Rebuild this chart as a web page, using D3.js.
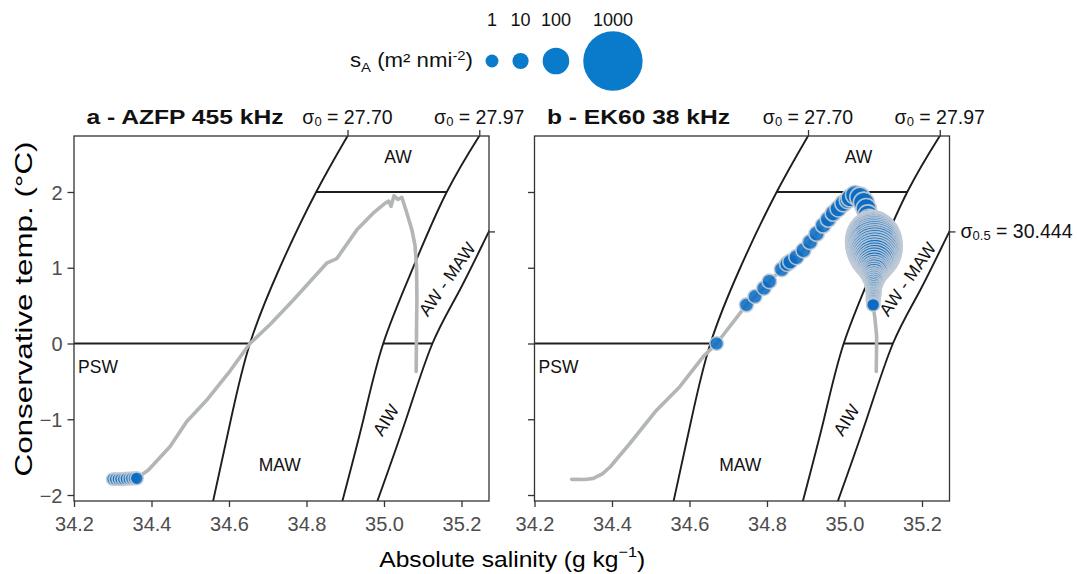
<!DOCTYPE html>
<html>
<head>
<meta charset="utf-8">
<script src="https://cdn.jsdelivr.net/npm/d3@7"></script>
<style>
  body { margin: 0; background: #fff; }
  svg { display: block; }
  text { font-family: "Liberation Sans", Arial, Helvetica, sans-serif; }
</style>
</head>
<body>
<svg id="chart" width="1077" height="574"></svg>
<script>
// ---- axes ----
const salinityTicks = [34.2, 34.4, 34.6, 34.8, 35.0, 35.2];
const tempTicks = [-2, -1, 0, 1, 2];
const salinityDomain = [34.2, 35.271];
const tempDomain = [-2.079, 2.739];

// ---- isopycnals, [absolute salinity, conservative temperature] ----
const sigma0_2770 = [[34.556, -2.15], [34.605, -1], [34.654, 0], [34.731, 1], [34.825, 2], [34.906, 2.74], [34.918, 2.85]];
const sigma0_2797 = [[34.889, -2.15], [34.947, -1], [34.998, 0], [35.075, 1], [35.162, 2], [35.246, 2.74], [35.259, 2.85]];
const sigma05_30444 = [[34.978, -2.15], [35.057, -1], [35.125, 0], [35.196, 0.71], [35.27, 1.47], [35.31, 1.85]];

// ---- water masses ----
const massNames = ["AW", "PSW", "MAW", "AIW", "AW - MAW"];
const massSA = [35.036, 34.262, 34.731, 35.005, 35.163];
const massCT = [2.46, -0.31, -1.60, -1.01, 0.85];
const massAngle = [0, 0, 0, -58, -55];

// ---- T-S profiles ----
const azfpProfile = [
  [34.300, -1.79], [34.330, -1.79], [34.362, -1.78], [34.392, -1.67], [34.448, -1.36], [34.491, -1.03],
  [34.542, -0.75], [34.603, -0.36], [34.654, 0.00], [34.706, 0.25], [34.766, 0.574], [34.852, 1.06],
  [34.878, 1.12], [34.930, 1.50], [34.972, 1.72], [35.000, 1.84], [35.012, 1.88], [35.018, 1.81],
  [35.026, 1.95], [35.036, 1.90], [35.046, 1.93], [35.058, 1.74], [35.072, 1.50], [35.080, 1.30],
  [35.084, 1.01], [35.085, 0.60], [35.084, 0.20], [35.083, -0.37]
];
const ek60Profile = [
  [34.296, -1.793], [34.330, -1.795], [34.352, -1.78], [34.375, -1.72], [34.395, -1.63], [34.446, -1.32],
  [34.515, -0.88], [34.575, -0.57], [34.636, -0.17], [34.670, 0.00], [34.747, 0.51], [34.769, 0.62],
  [34.792, 0.73], [34.806, 0.82], [34.838, 0.98], [34.855, 1.06], [34.876, 1.14], [34.894, 1.23],
  [34.911, 1.34], [34.928, 1.45], [34.945, 1.56], [34.958, 1.64], [34.971, 1.72], [34.984, 1.78],
  [34.997, 1.85], [35.014, 1.92], [35.027, 1.96], [35.040, 1.93], [35.050, 1.86], [35.058, 1.75],
  [35.066, 1.60], [35.072, 1.45], [35.077, 1.30], [35.079, 1.10], [35.078, 0.90], [35.076, 0.70],
  [35.074, 0.51], [35.079, 0.31], [35.083, 0.09], [35.082, -0.37]
];

// ---- backscatter, [absolute salinity, conservative temperature, sA (m2 nmi-2)] ----
const azfpBackscatter = [
  [34.300, -1.790, 0.4], [34.307, -1.790, 0.5], [34.314, -1.790, 0.4], [34.321, -1.790, 0.6],
  [34.328, -1.790, 0.5], [34.335, -1.785, 0.7], [34.342, -1.785, 0.6], [34.349, -1.780, 0.8],
  [34.356, -1.780, 0.9], [34.362, -1.780, 1.0]
];
const ek60Backscatter = [
  [34.670, 0.00, 2], [34.747, 0.51, 3], [34.769, 0.62, 3], [34.792, 0.73, 4], [34.806, 0.82, 4],
  [34.838, 0.98, 5], [34.852, 1.05, 6], [34.860, 1.08, 6], [34.876, 1.14, 6], [34.894, 1.23, 6],
  [34.911, 1.34, 6], [34.928, 1.45, 7], [34.945, 1.56, 8], [34.958, 1.64, 9], [34.971, 1.72, 10],
  [34.984, 1.78, 12], [34.997, 1.85, 14], [35.008, 1.89, 12], [35.014, 1.92, 18], [35.027, 1.96, 25],
  [35.040, 1.93, 35], [35.050, 1.86, 40], [35.056, 1.78, 35], [35.060, 1.70, 30], [35.064, 1.62, 60],
  [35.067, 1.56, 120], [35.069, 1.52, 200],
  [35.070, 1.50, 263], [35.071, 1.48, 355], [35.071, 1.46, 461], [35.072, 1.44, 550], [35.072, 1.42, 647],
  [35.073, 1.40, 715], [35.074, 1.38, 788], [35.074, 1.36, 825], [35.075, 1.34, 863], [35.076, 1.32, 863],
  [35.076, 1.30, 863], [35.077, 1.28, 848], [35.077, 1.26, 825], [35.078, 1.24, 788], [35.078, 1.22, 751],
  [35.078, 1.20, 701], [35.078, 1.18, 647], [35.078, 1.16, 581], [35.078, 1.14, 520], [35.078, 1.12, 461],
  [35.078, 1.10, 406], [35.078, 1.08, 355], [35.078, 1.06, 307], [35.077, 1.04, 263], [35.077, 1.02, 222],
  [35.077, 1.00, 184], [35.077, 0.98, 150], [35.077, 0.96, 125], [35.077, 0.94, 106], [35.076, 0.92, 85],
  [35.076, 0.90, 69], [35.076, 0.88, 53], [35.076, 0.86, 40], [35.076, 0.84, 32], [35.076, 0.82, 25],
  [35.075, 0.80, 19], [35.075, 0.78, 13.6], [35.075, 0.76, 10.8], [35.075, 0.74, 9.2], [35.075, 0.72, 6.9],
  [35.075, 0.70, 5.6], [35.075, 0.68, 4.4], [35.075, 0.66, 3.9], [35.075, 0.64, 3.4], [35.075, 0.62, 2.9],
  [35.074, 0.60, 2.5], [35.074, 0.58, 2.1], [35.074, 0.56, 1.7], [35.074, 0.54, 1.4], [35.074, 0.52, 1.25],
  [35.074, 0.51, 1.1]
];

// ---- legend ----
const legendValues = [1, 10, 100, 1000];

// ---------------------------------------------------------------
const svg = d3.select("#chart");
const ink = "#333333";
const legendBlue = "#0a7bcb";
const bubbleBlue = "#0a6cc2";
const radius = d3.scaleSqrt().domain([0, 1000]).range([5.7, 29.7]);

// SA where a curve crosses a given CT (linear between nodes)
function saAt(curve, ct) {
  for (let i = 1; i < curve.length; i++) {
    const [s0, t0] = curve[i - 1], [s1, t1] = curve[i];
    if ((ct - t0) * (ct - t1) <= 0 && t1 !== t0) return s0 + (s1 - s0) * (ct - t0) / (t1 - t0);
  }
  return NaN;
}
// CT where a curve crosses a given SA
function ctAt(curve, sa) {
  for (let i = 1; i < curve.length; i++) {
    const [s0, t0] = curve[i - 1], [s1, t1] = curve[i];
    if ((sa - s0) * (sa - s1) <= 0 && s1 !== s0) return t0 + (t1 - t0) * (sa - s0) / (s1 - s0);
  }
  return NaN;
}
function fit(sel, w) {
  sel.attr("textLength", w).attr("lengthAdjust", "spacingAndGlyphs");
}

const boundaries = [
  [saAt(sigma0_2770, 2), saAt(sigma0_2797, 2), 2],
  [salinityDomain[0], saAt(sigma0_2770, 0), 0],
  [saAt(sigma0_2797, 0), saAt(sigma05_30444, 0), 0]
];
const topCrossings = [
  [saAt(sigma0_2770, tempDomain[1]), "27.70"],
  [saAt(sigma0_2797, tempDomain[1]), "27.97"]
];
const rightCrossing = ctAt(sigma05_30444, salinityDomain[1]);

const panels = [
  { left: 74, title: "a - AZFP 455 kHz", titleW: 197, profile: azfpProfile, dots: azfpBackscatter, yLabels: true, rightLabel: false },
  { left: 534.5, title: "b - EK60 38 kHz", titleW: 183, profile: ek60Profile, dots: ek60Backscatter, yLabels: false, rightLabel: true }
];
const panelW = 415, panelTop = 136, panelBottom = 501;

panels.forEach((p, pi) => {
  const x = d3.scaleLinear().domain(salinityDomain).range([p.left, p.left + panelW]);
  const y = d3.scaleLinear().domain(tempDomain).range([panelBottom, panelTop]);
  const g = svg.append("g");

  const clipId = "clip" + pi;
  svg.append("clipPath").attr("id", clipId)
    .append("rect").attr("x", p.left).attr("y", panelTop).attr("width", panelW).attr("height", panelBottom - panelTop);
  const plot = g.append("g").attr("clip-path", `url(#${clipId})`);

  const line = d3.line().x(d => x(d[0])).y(d => y(d[1]));

  // isopycnals
  [sigma0_2770, sigma0_2797, sigma05_30444].forEach(c => {
    plot.append("path").datum(c)
      .attr("d", line.curve(d3.curveNatural))
      .attr("fill", "none").attr("stroke", "#1e1e1e").attr("stroke-width", 1.9);
  });
  // water mass boundaries
  boundaries.forEach(b => {
    plot.append("line")
      .attr("x1", x(b[0])).attr("x2", x(b[1])).attr("y1", y(b[2])).attr("y2", y(b[2]))
      .attr("stroke", "#1e1e1e").attr("stroke-width", 1.9);
  });
  // water mass names
  massNames.forEach((n, i) => {
    const tx = x(massSA[i]), ty = y(massCT[i]);
    plot.append("text")
      .attr("transform", `translate(${tx},${ty}) rotate(${massAngle[i]})`)
      .attr("text-anchor", "middle").attr("dominant-baseline", "central")
      .attr("font-size", 17.5).attr("fill", "#111").text(n);
  });

  // profile
  plot.append("path").datum(p.profile)
    .attr("d", line.curve(d3.curveLinear))
    .attr("fill", "none").attr("stroke", "#b3b6b6").attr("stroke-width", 3.6)
    .attr("stroke-linejoin", "round").attr("stroke-linecap", "round");

  // backscatter bubbles
  plot.append("g").selectAll("circle").data(p.dots).join("circle")
    .attr("cx", d => x(d[0])).attr("cy", d => y(d[1])).attr("r", d => radius(d[2]))
    .attr("fill", bubbleBlue).attr("fill-opacity", 0.88)
    .attr("stroke", "#c3ccd6").attr("stroke-opacity", 0.9).attr("stroke-width", 1.6);

  // frame
  g.append("rect").attr("x", p.left).attr("y", panelTop).attr("width", panelW).attr("height", panelBottom - panelTop)
    .attr("fill", "none").attr("stroke", ink).attr("stroke-width", 1.3);

  // bottom axis
  const ax = g.append("g").attr("transform", `translate(0,${panelBottom})`)
    .call(d3.axisBottom(x).tickValues(salinityTicks).tickFormat(d3.format(".1f")).tickSize(6).tickPadding(10));
  // left axis
  const ay = g.append("g").attr("transform", `translate(${p.left},0)`)
    .call(d3.axisLeft(y).tickValues(tempTicks).tickFormat(p.yLabels ? d3.format("d") : () => "").tickSize(6.5).tickPadding(5));
  // top axis (sigma0 isopycnals)
  const at = g.append("g").attr("transform", `translate(0,${panelTop})`)
    .call(d3.axisTop(x).tickValues(topCrossings.map(d => d[0])).tickFormat(() => "").tickSize(6));
  // right axis (sigma0.5 isopycnal)
  const ar = g.append("g").attr("transform", `translate(${p.left + panelW},0)`)
    .call(d3.axisRight(y).tickValues([rightCrossing]).tickFormat(() => "").tickSize(6));

  [ax, ay, at, ar].forEach(a => {
    a.select(".domain").remove();
    a.selectAll(".tick line").attr("stroke", ink).attr("stroke-width", 1.3);
    a.selectAll(".tick text").attr("font-size", 20).attr("fill", "#4d4d4d")
      .attr("font-family", '"Liberation Sans", Arial, sans-serif');
  });
  ay.selectAll(".tick text").attr("dy", "0.36em");

  // sigma0 labels
  topCrossings.forEach(([sa, lab]) => {
    const t = g.append("text").attr("x", x(sa)).attr("y", 123.5)
      .attr("text-anchor", "middle").attr("font-size", 19.5).attr("fill", "#111");
    t.append("tspan").text("σ");
    t.append("tspan").attr("font-size", 13).attr("dy", 2).text("0");
    t.append("tspan").attr("dy", -2).text(" = " + lab);
  });
  if (p.rightLabel) {
    const t = g.append("text").attr("x", p.left + panelW + 11).attr("y", y(rightCrossing) + 7)
      .attr("font-size", 19.5).attr("fill", "#111");
    t.append("tspan").text("σ");
    t.append("tspan").attr("font-size", 13).attr("dy", 2).text("0.5");
    t.append("tspan").attr("dy", -2).text(" = 30.444");
  }

  // title
  g.append("text").attr("x", p.left + 12.5).attr("y", 124)
    .attr("font-size", 20.5).attr("font-weight", "bold").attr("fill", "#111")
    .text(p.title).call(fit, p.titleW);
});

// axis titles
const xt = svg.append("text").attr("x", 379.3).attr("y", 566.7).attr("font-size", 22.5).attr("fill", "#000");
xt.append("tspan").text("Absolute salinity (g kg");
xt.append("tspan").attr("font-size", 15).attr("dy", -10).text("\u22121");
xt.append("tspan").attr("dy", 10).text(")");
xt.call(fit, 266);

svg.append("text")
  .attr("transform", "translate(32,309) rotate(-90)")
  .attr("text-anchor", "middle").attr("font-size", 24).attr("fill", "#000")
  .text("Conservative temp. (°C)").call(fit, 335);

// size legend
const lt = svg.append("text").attr("x", 350).attr("y", 67).attr("font-size", 19.5).attr("fill", "#111");
lt.append("tspan").text("s");
lt.append("tspan").attr("font-size", 13).attr("dy", 5).text("A");
lt.append("tspan").attr("dy", -5).text(" (m² nmi");
lt.append("tspan").attr("font-size", 13).attr("dy", -7).text("-2");
lt.append("tspan").attr("dy", 7).text(")");
lt.call(fit, 123);

let cx = 492;
legendValues.forEach((v, i) => {
  const r = radius(v);
  if (i > 0) cx += r;
  svg.append("circle").attr("cx", cx).attr("cy", 61).attr("r", r).attr("fill", legendBlue);
  svg.append("text").attr("x", cx).attr("y", 26).attr("text-anchor", "middle")
    .attr("font-size", 18).attr("fill", "#111").text(v);
  cx += r + 14;
});
</script>
</body>
</html>
